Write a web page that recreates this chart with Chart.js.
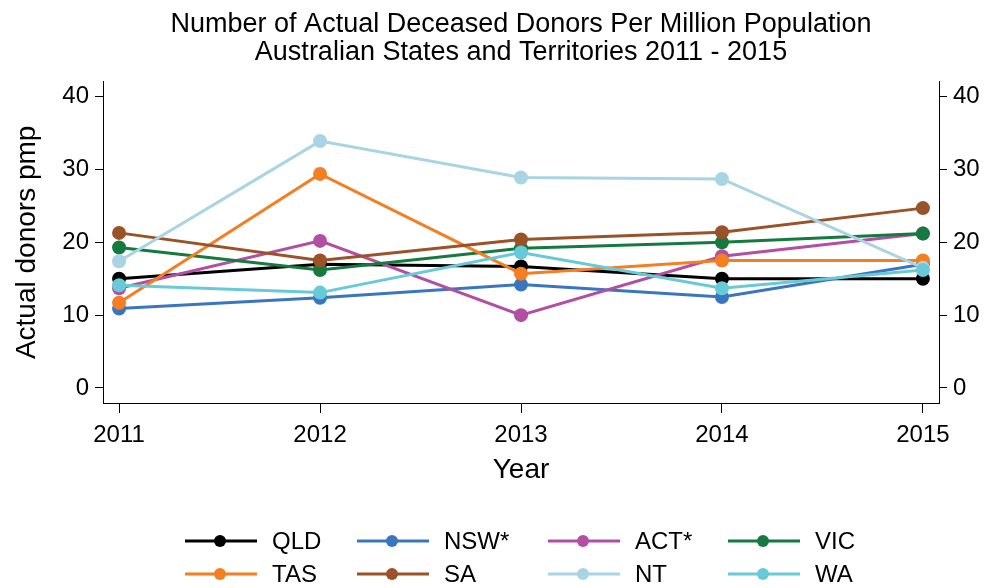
<!DOCTYPE html>
<html>
<head>
<meta charset="utf-8">
<script src="https://cdn.jsdelivr.net/npm/chart.js@4.4.1/dist/chart.umd.min.js"></script>
<style>
  html, body { margin: 0; padding: 0; background: #fff; }
  canvas { display: block; }
</style>
</head>
<body>
<canvas id="donorChart" width="986" height="588"></canvas>
<script>
// dados (doadores por milhão de habitantes)
const years = [2011, 2012, 2013, 2014, 2015];
const yTicks = [0, 10, 20, 30, 40];

const states = ['QLD', 'NSW*', 'ACT*', 'VIC', 'TAS', 'SA', 'NT', 'WA'];
const qld = [15.0, 17.0, 16.7, 15.0, 15.0];
const nsw = [10.9, 12.4, 14.2, 12.5, 17.0];
const act = [13.7, 20.2, 10.0, 18.1, 21.2];
const vic = [19.3, 16.2, 19.2, 20.0, 21.2];
const tas = [11.7, 29.4, 15.7, 17.5, 17.5];
const sa  = [21.3, 17.5, 20.4, 21.4, 24.7];
const nt  = [17.4, 33.9, 28.9, 28.7, 16.5];
const wa  = [14.1, 13.1, 18.6, 13.7, 16.2];

const seriesValues = [qld, nsw, act, vic, tas, sa, nt, wa];
const colors = ['#000000', '#3a76c0', '#b24fa2', '#157a3f', '#f37f22', '#9a5229', '#a9d4e3', '#68cad7'];

const FONT = 'Liberation Sans, Arial, Helvetica, sans-serif';

const datasets = states.map((name, i) => ({
    label: name,
    data: years.map((yr, k) => ({ x: yr, y: seriesValues[i][k] })),
    borderColor: colors[i],
    backgroundColor: colors[i],
    pointBackgroundColor: colors[i],
    pointBorderWidth: 0,
    pointRadius: 7,
    borderWidth: 3,
    tension: 0,
    order: states.length - i // o último (WA) fica por cima
}));

// legenda desenhada à mão: grade 4 x 2
const legendPlugin = {
    id: 'gridLegend',
    afterDraw(chart) {
        const ctx = chart.ctx;
        const colX = [185, 357, 548, 728];
        const rowY = [541, 574];
        ctx.save();
        ctx.font = '24px ' + FONT;
        ctx.textBaseline = 'middle';
        chart.data.datasets.forEach((ds, i) => {
            const x = colX[i % 4];
            const y = rowY[Math.floor(i / 4)];
            ctx.strokeStyle = ds.borderColor;
            ctx.lineWidth = 3;
            ctx.beginPath();
            ctx.moveTo(x, y);
            ctx.lineTo(x + 72, y);
            ctx.stroke();
            ctx.fillStyle = ds.borderColor;
            ctx.beginPath();
            ctx.arc(x + 35, y, 6, 0, Math.PI * 2);
            ctx.fill();
            ctx.fillStyle = '#000';
            ctx.fillText(ds.label, x + 87, y + 1);
        });
        ctx.restore();
    }
};

const axisBase = {
    border: { display: true, color: '#000', width: 1 },
    grid: { drawOnChartArea: false, drawTicks: true, tickLength: 8, tickColor: '#000', tickWidth: 1 },
    ticks: { color: '#000', font: { family: FONT, size: 24 } }
};

new Chart(document.getElementById('donorChart'), {
    type: 'line',
    data: { datasets: datasets },
    plugins: [legendPlugin],
    options: {
        responsive: false,
        animation: false,
        layout: { padding: 0 },
        plugins: {
            legend: { display: false },
            tooltip: { enabled: false },
            title: {
                display: true,
                fullSize: false,
                text: ['Number of Actual Deceased Donors Per Million Population',
                       'Australian States and Territories 2011 - 2015'],
                color: '#000',
                font: { family: FONT, size: 27, weight: 'normal', lineHeight: 1.05 },
                padding: { top: 10, bottom: 15 }
            }
        },
        scales: {
            x: {
                type: 'linear',
                min: 2010.92,
                max: 2015.08,
                border: axisBase.border,
                grid: { ...axisBase.grid, tickLength: 10 },
                ticks: { ...axisBase.ticks, padding: 8, callback: v => String(v) },
                afterBuildTicks: s => { s.ticks = years.map(v => ({ value: v })); },
                afterFit: s => { s.height = 185; },
                title: {
                    display: true,
                    text: 'Year',
                    color: '#000',
                    font: { family: FONT, size: 28 },
                    padding: { top: 0, bottom: 101 }
                }
            },
            y: {
                position: 'left',
                min: -2.06,
                max: 42.06,
                ...axisBase,
                ticks: { ...axisBase.ticks, padding: 6 },
                afterBuildTicks: s => { s.ticks = yTicks.map(v => ({ value: v })); },
                afterFit: s => { s.width = 103; },
                title: {
                    display: true,
                    text: 'Actual donors pmp',
                    color: '#000',
                    font: { family: FONT, size: 28 },
                    padding: { top: 10, bottom: 0 }
                }
            },
            y2: {
                position: 'right',
                min: -2.06,
                max: 42.06,
                ...axisBase,
                ticks: { ...axisBase.ticks, padding: 6 },
                afterBuildTicks: s => { s.ticks = yTicks.map(v => ({ value: v })); },
                afterFit: s => { s.width = 47; }
            }
        }
    }
});
</script>
</body>
</html>
